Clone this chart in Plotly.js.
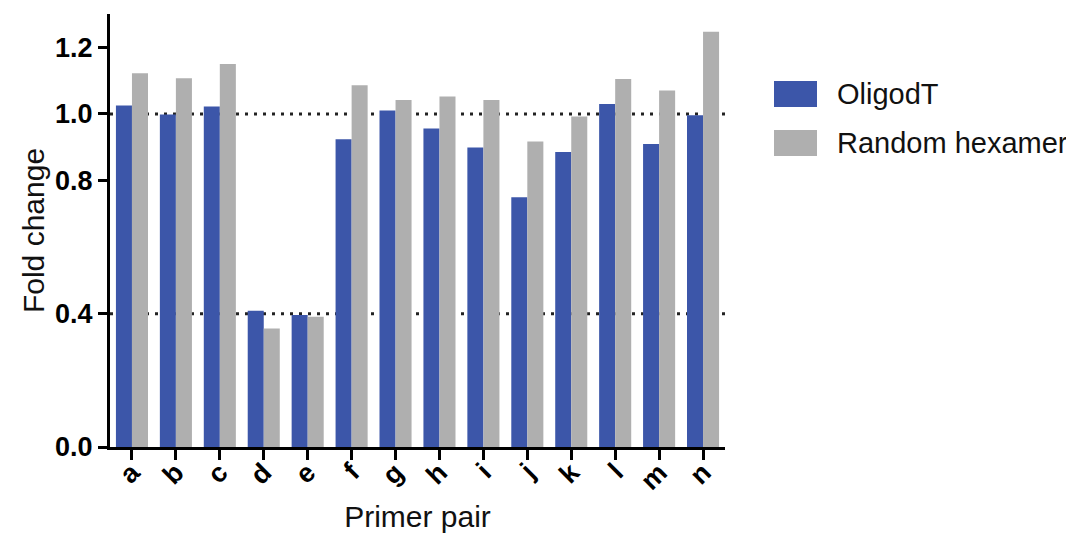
<!DOCTYPE html>
<html>
<head>
<meta charset="utf-8">
<script src="https://cdn.plot.ly/plotly-3.0.1.min.js"></script>
<style>html,body{margin:0;padding:0;background:#fff;}#chart{width:1066px;height:535px;}</style>
</head>
<body>
<div id="chart"></div>
<script>
const categories = ["a","b","c","d","e","f","g","h","i","j","k","l","m","n"];
const oligodT = [1.025,0.998,1.022,0.409,0.396,0.924,1.010,0.956,0.899,0.750,0.886,1.030,0.910,0.996];
const randomHexamer = [1.122,1.107,1.150,0.356,0.391,1.086,1.042,1.052,1.042,0.917,0.992,1.105,1.070,1.247];
const seriesNames = ["OligodT","Random hexamer"];
const seriesColors = ["#3C56A9","#AFAFAF"];
const yTickVals = [0.0,0.4,0.8,1.0,1.2];
const yTickText = ["0.0","0.4","0.8","1.0","1.2"];
const refLines = [0.4,1.0];

const FONT = "Arial, 'Liberation Sans', Helvetica, sans-serif";

const traces = [
  {type:"bar", x:categories, y:oligodT, name:seriesNames[0], marker:{color:seriesColors[0]}, showlegend:false},
  {type:"bar", x:categories, y:randomHexamer, name:seriesNames[1], marker:{color:seriesColors[1]}, showlegend:false}
];

const L = 110, R = 341, T = 14, B = 88, W = 1066, H = 535;
const pw = W - L - R, ph = H - T - B;
function px2x(px){ return (px - L) / pw; }
function py2y(py){ return (H - B - py) / ph; }

const shapes = refLines.map(v => ({
  type:"line", xref:"paper", yref:"y", x0:0, x1:1, y0:v, y1:v, layer:"below",
  line:{color:"#222", width:3, dash:"3px,6px"}
}));
const annotations = [];
seriesNames.forEach((nm, i) => {
  const cy = 94 + i * 49;
  shapes.push({type:"rect", xref:"paper", yref:"paper",
    x0:px2x(774), x1:px2x(817), y0:py2y(cy+13), y1:py2y(cy-13),
    fillcolor:seriesColors[i], line:{width:0}});
  annotations.push({xref:"paper", yref:"paper", x:px2x(835), y:py2y(cy),
    xanchor:"left", yanchor:"middle", showarrow:false, text:nm,
    font:{family:FONT, size:29, color:"#111"}});
});

const layout = {
  width:W, height:H,
  margin:{l:L, r:R, t:T, b:B, pad:0},
  paper_bgcolor:"#fff", plot_bgcolor:"#fff",
  barmode:"group", bargap:0.27, bargroupgap:0,
  showlegend:false,
  xaxis:{
    type:"category", range:[-0.5,13.5], showgrid:false, zeroline:false,
    showline:true, linecolor:"#000", linewidth:3,
    ticks:"outside", ticklen:10, tickwidth:3, tickcolor:"#000",
    ticklabelstandoff:-14,
    tickangle:-45, tickfont:{family:FONT, size:27, color:"#000", weight:"bold"},
    title:{text:"Primer pair", font:{family:FONT, size:30, color:"#111"}, standoff:12}
  },
  yaxis:{
    range:[0,1.3], showgrid:false, zeroline:false,
    showline:true, linecolor:"#000", linewidth:3,
    ticks:"outside", ticklen:9, tickwidth:3, tickcolor:"#000",
    tickvals:yTickVals, ticktext:yTickText,
    tickfont:{family:FONT, size:27, color:"#000", weight:"bold"},
    title:{text:"Fold change", font:{family:FONT, size:30, color:"#111"}, standoff:2}
  },
  shapes:shapes,
  annotations:annotations
};

Plotly.newPlot("chart", traces, layout, {displayModeBar:false, staticPlot:true});
</script>
</body>
</html>
